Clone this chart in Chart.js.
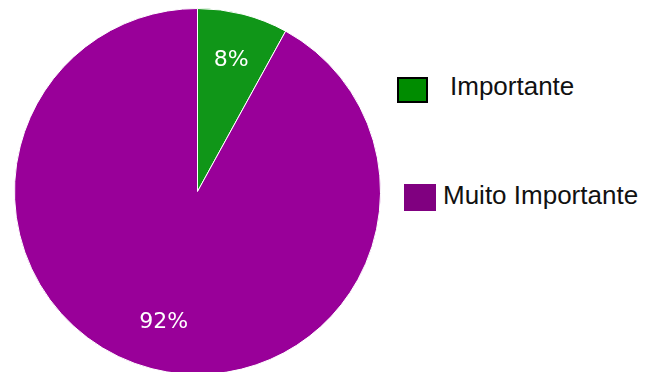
<!DOCTYPE html>
<html>
<head>
<meta charset="utf-8">
<script src="https://cdn.jsdelivr.net/npm/chart.js@4/dist/chart.umd.min.js"></script>
<style>
    html, body { margin: 0; padding: 0; background: #fff; }
    body { width: 646px; height: 372px; position: relative; overflow: hidden; }
    #pieBox { position: absolute; left: 14px; top: 8px; width: 367px; height: 367px; }
    .legend-item { position: absolute; font-family: "Liberation Sans", Arial, sans-serif; font-size: 26px; color: #111; line-height: 1; white-space: nowrap; }
    .legend-box { position: absolute; box-sizing: border-box; }
</style>
</head>
<body>
<div id="pieBox"><canvas id="pieChart"></canvas></div>
<div id="legend"></div>
<script>
const labels = ["Importante", "Muito Importante"];
const values = [8, 92];
const sliceColors = ["#109618", "#990099"];
const legendColors = ["#008c00", "#800080"];

// legend layout is not aligned in the original, so each entry is placed on its own
const legendPlaces = [
    { box: [397, 77, 31, 26], border: "2px solid #000", text: [450, 73] },
    { box: [404, 184, 32, 27], border: "none", text: [443, 182] }
];

const legend = document.getElementById("legend");
legend.innerHTML = labels.map((name, i) => {
    const p = legendPlaces[i];
    return `
        <div class="legend-box" style="left:${p.box[0]}px;top:${p.box[1]}px;width:${p.box[2]}px;height:${p.box[3]}px;background:${legendColors[i]};border:${p.border}"></div>
        <div class="legend-item" style="left:${p.text[0]}px;top:${p.text[1]}px">${name}</div>
    `;
}).join("");

const sliceLabels = {
    id: "sliceLabels",
    afterDatasetsDraw(chart) {
        const ctx = chart.ctx;
        const meta = chart.getDatasetMeta(0);
        const total = values.reduce((a, b) => a + b, 0);
        ctx.save();
        ctx.fillStyle = "#ffffff";
        ctx.font = "22px 'DejaVu Sans'";
        ctx.textAlign = "center";
        ctx.textBaseline = "middle";
        meta.data.forEach((arc, i) => {
            const mid = (arc.startAngle + arc.endAngle) / 2;
            const r = arc.outerRadius * 0.74;
            const x = arc.x + Math.cos(mid) * r;
            const y = arc.y + Math.sin(mid) * r;
            ctx.fillText(Math.round(values[i] / total * 100) + "%", x, y);
        });
        ctx.restore();
    }
};

new Chart(document.getElementById("pieChart"), {
    type: "pie",
    data: {
        labels: labels,
        datasets: [{
            data: values,
            backgroundColor: sliceColors,
            borderColor: "#ffffff",
            borderWidth: 1
        }]
    },
    options: {
        responsive: true,
        maintainAspectRatio: false,
        animation: false,
        plugins: {
            legend: { display: false },
            tooltip: { enabled: false }
        }
    },
    plugins: [sliceLabels]
});
</script>
</body>
</html>
